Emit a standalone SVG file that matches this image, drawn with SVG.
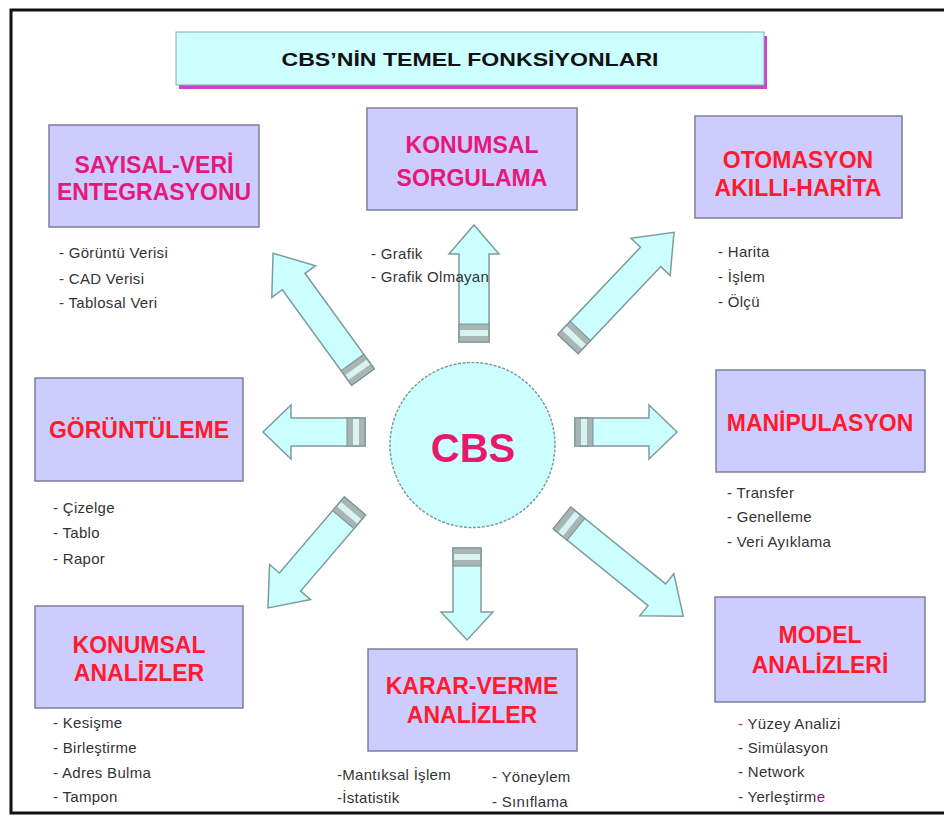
<svg xmlns="http://www.w3.org/2000/svg" width="944" height="817" viewBox="0 0 944 817">
<style>
.box{fill:#ccccff;stroke:#7d7d9c;stroke-width:1.5}
.h{font-family:"Liberation Sans",Arial,sans-serif;font-weight:bold;font-size:23px;text-anchor:middle}
.pink{fill:#e6187a}
.red{fill:#ff1a2e}
.b{font-family:"Liberation Sans",Arial,sans-serif;font-size:15px;fill:#333;letter-spacing:0.3px}
.arr{fill:#ccffff;stroke:#7f9c9c;stroke-width:1.5;stroke-linejoin:miter}
.cap{fill:#a7b5b5;stroke:#7f9090;stroke-width:1}
.capin{fill:#d9f3f3;stroke:none}
</style>
<rect x="0" y="0" width="944" height="817" fill="#ffffff"/>
<rect x="11" y="10" width="960" height="803" fill="none" stroke="#111" stroke-width="3"/>

<g id="title">
<rect x="179" y="36" width="588" height="53" fill="#cc44cc"/>
<rect x="176" y="32" width="588" height="53" fill="#ccffff" stroke="#8aa" stroke-width="1"/>
<text x="470" y="66" font-family="'Liberation Sans',Arial,sans-serif" font-weight="bold" font-size="19" text-anchor="middle" fill="#111" textLength="377" lengthAdjust="spacingAndGlyphs">CBS’NİN TEMEL FONKSİYONLARI</text>
</g>

<g id="connectors">
<g transform="translate(575,432)">
<path class="arr" d="M0,-14 H74 V-27 L102,0 L74,27 V14 H0 Z"/>
<rect class="cap" x="0" y="-14" width="18" height="28"/><rect class="capin" x="6" y="-13" width="6" height="26"/>
</g>
<g transform="translate(365,432) rotate(180)">
<path class="arr" d="M0,-14 H74 V-27 L102,0 L74,27 V14 H0 Z"/>
<rect class="cap" x="0" y="-14" width="18" height="28"/><rect class="capin" x="6" y="-13" width="6" height="26"/>
</g>
<g transform="translate(474,342) rotate(-90)">
<path class="arr" d="M0,-15 H88 V-25 L117,0 L88,25 V15 H0 Z"/>
<rect class="cap" x="0" y="-15" width="18" height="30"/><rect class="capin" x="6" y="-14" width="6" height="28"/>
</g>
<g transform="translate(467,548) rotate(90)">
<path class="arr" d="M0,-14 H64 V-26 L92,0 L64,26 V14 H0 Z"/>
<rect class="cap" x="0" y="-14" width="18" height="28"/><rect class="capin" x="6" y="-13" width="6" height="26"/>
</g>
<g transform="translate(363,377) rotate(-126)">
<path class="arr" d="M0,-14 H118 V-27 L153,0 L118,27 V14 H0 Z"/>
<rect class="cap" x="0" y="-14" width="18" height="28"/><rect class="capin" x="6" y="-13" width="6" height="26"/>
</g>
<g transform="translate(355,506) rotate(130.5)">
<path class="arr" d="M0,-14 H100 V-27 L134,0 L100,27 V14 H0 Z"/>
<rect class="cap" x="0" y="-14" width="18" height="28"/><rect class="capin" x="6" y="-13" width="6" height="26"/>
</g>
<g transform="translate(568,344) rotate(-46.5)">
<path class="arr" d="M0,-14 H120 V-27 L154,0 L120,27 V14 H0 Z"/>
<rect class="cap" x="0" y="-14" width="18" height="28"/><rect class="capin" x="6" y="-13" width="6" height="26"/>
</g>
<g transform="translate(562,518) rotate(39)">
<path class="arr" d="M0,-14 H122 V-27 L156,0 L122,27 V14 H0 Z"/>
<rect class="cap" x="0" y="-14" width="18" height="28"/><rect class="capin" x="6" y="-13" width="6" height="26"/>
</g>
</g>

<g id="cbs">
<circle cx="472.5" cy="445" r="82.5" fill="#ccffff" stroke="#7f9c9c" stroke-width="1.5" stroke-dasharray="3,1.5"/>
<text x="473" y="462" font-family="'Liberation Sans',Arial,sans-serif" font-weight="bold" font-size="40" text-anchor="middle" fill="#e8196b">CBS</text>
</g>

<g id="sayisal">
<rect class="box" x="49" y="125" width="210" height="102"/>
<text class="h pink" x="154" y="173">SAYISAL-VERİ</text>
<text class="h pink" x="154" y="200">ENTEGRASYONU</text>
<text class="b" x="59" y="258">- Görüntü Verisi</text>
<text class="b" x="59" y="284">- CAD Verisi</text>
<text class="b" x="59" y="308">- Tablosal Veri</text>
</g>

<g id="sorgulama">
<rect class="box" x="367" y="108" width="210" height="102"/>
<text class="h pink" x="472" y="153">KONUMSAL</text>
<text class="h pink" x="472" y="186">SORGULAMA</text>
<text class="b" x="371" y="259">- Grafik</text>
<text class="b" x="371" y="282">- Grafik Olmayan</text>
</g>

<g id="otomasyon">
<rect class="box" x="695" y="116" width="207" height="102"/>
<text class="h red" x="798" y="168">OTOMASYON</text>
<text class="h red" x="798" y="196">AKILLI-HARİTA</text>
<text class="b" x="718" y="257">- Harita</text>
<text class="b" x="718" y="282">- İşlem</text>
<text class="b" x="718" y="307">- Ölçü</text>
</g>

<g id="goruntuleme">
<rect class="box" x="35" y="378" width="208" height="103"/>
<text class="h red" x="139" y="438">GÖRÜNTÜLEME</text>
<text class="b" x="53" y="513">- Çizelge</text>
<text class="b" x="53" y="538">- Tablo</text>
<text class="b" x="53" y="564">- Rapor</text>
</g>

<g id="manipulasyon">
<rect class="box" x="716" y="370" width="209" height="102"/>
<text class="h red" x="820" y="431">MANİPULASYON</text>
<text class="b" x="727" y="498">- Transfer</text>
<text class="b" x="727" y="522">- Genelleme</text>
<text class="b" x="727" y="547">- Veri Ayıklama</text>
</g>

<g id="konumsal-analizler">
<rect class="box" x="35" y="606" width="208" height="102"/>
<text class="h red" x="139" y="653">KONUMSAL</text>
<text class="h red" x="139" y="681">ANALİZLER</text>
<text class="b" x="53" y="728">- Kesişme</text>
<text class="b" x="53" y="753">- Birleştirme</text>
<text class="b" x="53" y="778">- Adres Bulma</text>
<text class="b" x="53" y="802">- Tampon</text>
</g>

<g id="karar-verme">
<rect class="box" x="368" y="649" width="209" height="102"/>
<text class="h red" x="472" y="694">KARAR-VERME</text>
<text class="h red" x="472" y="723">ANALİZLER</text>
<text class="b" x="337" y="780">-Mantıksal İşlem</text>
<text class="b" x="337" y="803">-İstatistik</text>
<text class="b" x="492" y="782">- Yöneylem</text>
<text class="b" x="492" y="807">- Sınıflama</text>
</g>

<g id="model-analizleri">
<rect class="box" x="715" y="597" width="210" height="105"/>
<text class="h red" x="820" y="643">MODEL</text>
<text class="h red" x="820" y="673">ANALİZLERİ</text>
<text class="b" x="738" y="729"><tspan fill="#e02040">-</tspan> Yüzey Analizi</text>
<text class="b" x="738" y="753">- Simülasyon</text>
<text class="b" x="738" y="777">- Network</text>
<text class="b" x="738" y="802">- Yerleştirm<tspan fill="#8a1aa0">e</tspan></text>
</g>
</svg>
